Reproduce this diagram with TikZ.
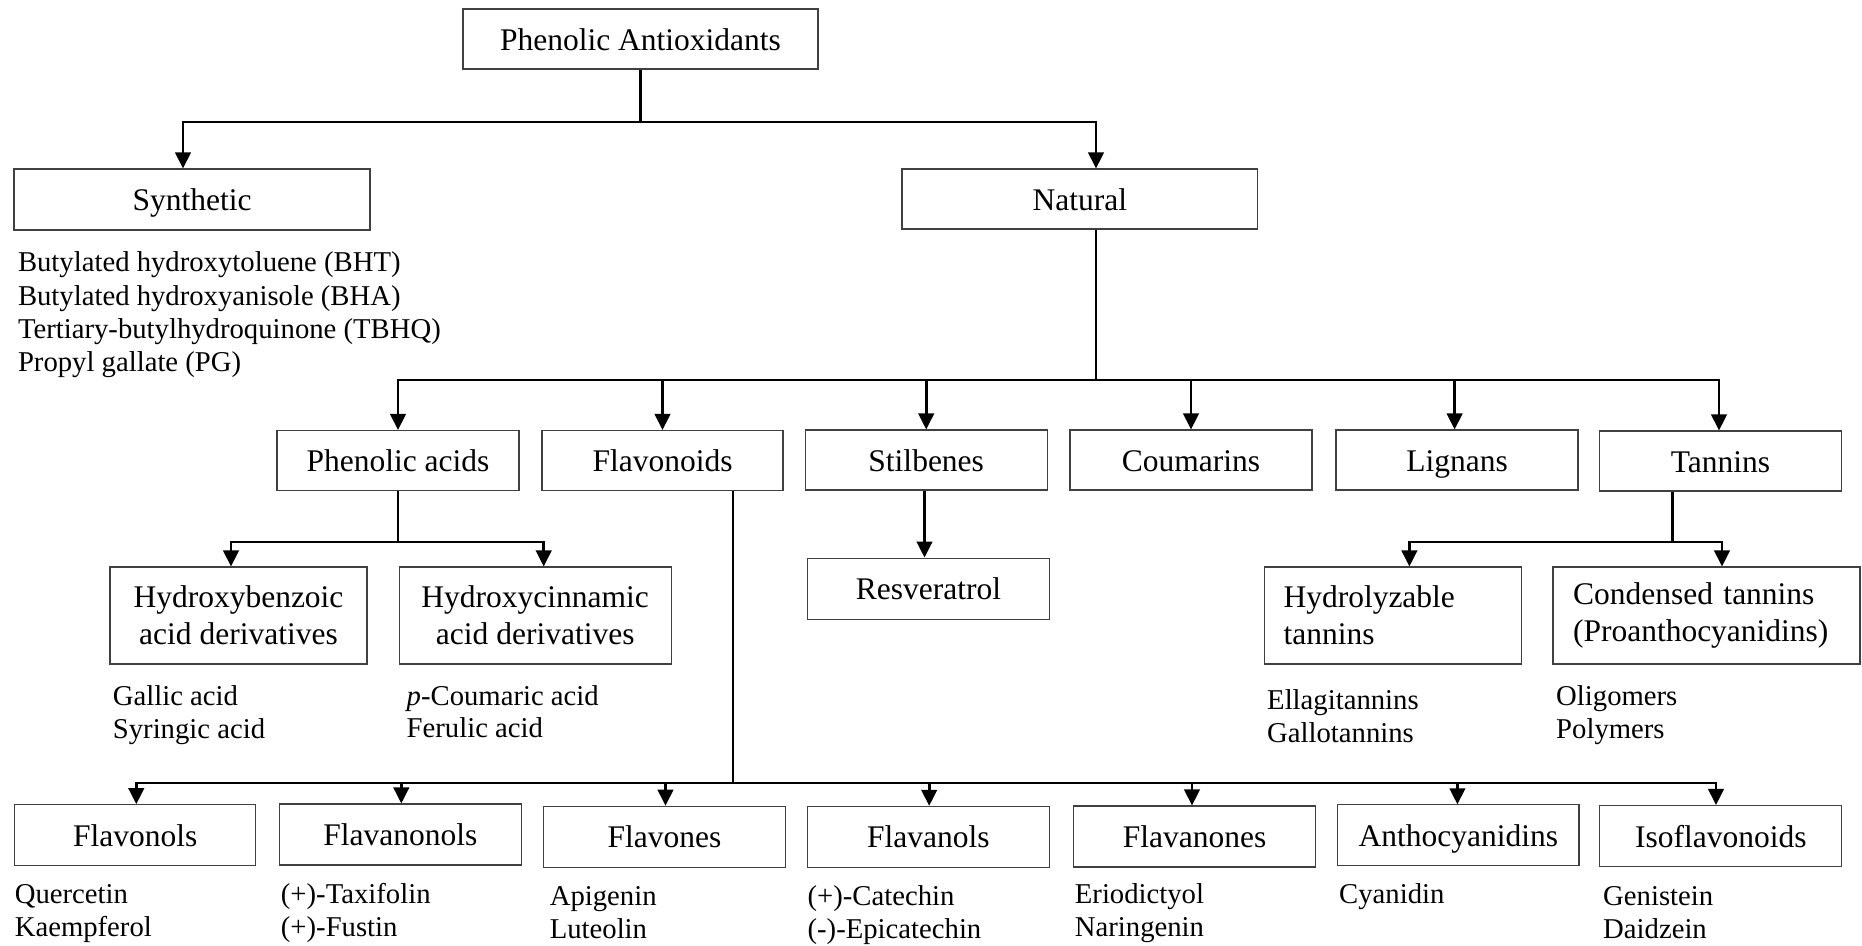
\documentclass[tikz,border=0pt]{standalone}
\usepackage{fontspec}
\setmainfont{Liberation Serif}
\usetikzlibrary{arrows.meta}
\tikzset{
  bx/.style={draw=black!75, line width=1.1pt, font=\fontsize{31.5}{37}\selectfont, inner sep=0pt, text height=23.6pt, text depth=1.6pt, minimum height=60pt},
  mbx/.style={draw=black!75, line width=1.1pt, font=\fontsize{31.5}{37}\selectfont, inner sep=0pt, align=center, minimum height=97pt},
  lbx/.style={draw=black!75, line width=1.1pt, font=\fontsize{31.5}{37}\selectfont, inner ysep=0pt, align=left, minimum height=97pt},
  lst/.style={font=\fontsize{28.7}{33}\selectfont, anchor=base west, inner sep=0pt},
  con/.style={line width=2.6pt},
  arr/.style={con, -{Triangle[length=16pt,width=15.5pt]}},
}
\begin{document}
\begin{tikzpicture}[x=1pt,y=-1pt]
\useasboundingbox (0,0) rectangle (1862,945);
% level 0 and 1
\node[bx, minimum width=355pt] (PA) at (640.5,39) {Phenolic Antioxidants};
\node[bx, minimum width=356pt, minimum height=61pt] (Syn) at (192,199.5) {Synthetic};
\node[bx, minimum width=355.5pt] (Nat) at (1079.75,199) {Natural};
% level 2
\node[bx, minimum width=242pt] (PhA) at (398,460.5) {Phenolic acids};
\node[bx, minimum width=241pt] (Flv) at (662.5,460.5) {Flavonoids};
\node[bx, minimum width=242pt] (Stl) at (926.2,460) {Stilbenes};
\node[bx, minimum width=242pt] (Cou) at (1191,460) {Coumarins};
\node[bx, minimum width=242pt] (Lig) at (1457,460) {Lignans};
\node[bx, minimum width=242pt] (Tan) at (1720.4,461) {Tannins};
% level 3
\node[mbx, minimum width=257pt] (HB) at (238.5,615.5) {Hydroxybenzoic\\acid derivatives};
\node[mbx, minimum width=272pt] (HC) at (535.2,615.5) {Hydroxycinnamic\\acid derivatives};
\node[bx, minimum width=242pt, minimum height=61pt] (Res) at (928.4,588.6) {Resveratrol};
\node[lbx, text width=219pt, inner xsep=19pt] (Hyd) at (1393,615.5) {Hydrolyzable\\tannins};
\node[lbx, text width=267pt, inner xsep=20pt] (Con) at (1706.5,615.5) {Condensed tannins\\(Proanthocyanidins)};
% level 4
\node[bx, minimum width=241pt, minimum height=61pt] (Fl1) at (135.3,835.2) {Flavonols};
\node[bx, minimum width=241.5pt, minimum height=61pt] (Fl2) at (400.3,834.5) {Flavanonols};
\node[bx, minimum width=241.6pt, minimum height=61pt] (Fl3) at (664.5,836.7) {Flavones};
\node[bx, minimum width=242pt, minimum height=61pt] (Fl4) at (928.4,836.9) {Flavanols};
\node[bx, minimum width=242pt, minimum height=61pt] (Fl5) at (1194.5,836.5) {Flavanones};
\node[bx, minimum width=241.4pt, minimum height=61pt] (Ant) at (1458.3,835.4) {Anthocyanidins};
\node[bx, minimum width=242pt, minimum height=61pt] (Iso) at (1720.8,836) {Isoflavonoids};
% lists
\node[lst] (s1) at (17.8,271.7) {Butylated hydroxytoluene (BHT)};
\node[lst] (s2) at (17.8,305) {Butylated hydroxyanisole (BHA)};
\node[lst] (s3) at (17.8,338.3) {Tertiary-butylhydroquinone (TBHQ)};
\node[lst] (s4) at (17.8,371.6) {Propyl gallate (PG)};
\node[lst] (ga) at (112.7,705.7) {Gallic acid};
\node[lst] (sa) at (112.7,738.3) {Syringic acid};
\node[lst] (pc) at (406.5,705.2) {\textit{p}-Coumaric acid};
\node[lst] (fa) at (406.5,737.8) {Ferulic acid};
\node[lst] (el) at (1267,709.3) {Ellagitannins};
\node[lst] (gt) at (1267,742.6) {Gallotannins};
\node[lst] (ol) at (1556,705.2) {Oligomers};
\node[lst] (po) at (1556,738.3) {Polymers};
\node[lst] (qu) at (14.6,903.5) {Quercetin};
\node[lst] (ka) at (14.6,936.5) {Kaempferol};
\node[lst] (tx) at (280.7,903.5) {(+)-Taxifolin};
\node[lst] (fu) at (280.7,936.5) {(+)-Fustin};
\node[lst] (ap) at (549.6,905) {Apigenin};
\node[lst] (lu) at (549.6,938) {Luteolin};
\node[lst] (ca) at (807.4,905) {(+)-Catechin};
\node[lst] (ep) at (807.4,938) {(-)-Epicatechin};
\node[lst] (er) at (1074.7,903.5) {Eriodictyol};
\node[lst] (na) at (1074.7,936.5) {Naringenin};
\node[lst] (cy) at (1339,903.5) {Cyanidin};
\node[lst] (ge) at (1603,905) {Genistein};
\node[lst] (da) at (1603,938) {Daidzein};
% connectors
\coordinate (j0) at (640.5,122);
\draw[con] (PA.south) -- (j0);
\draw[arr] (j0) -| ([xshift=-9pt]Syn.north);
\draw[arr] (j0) -| ([xshift=16.25pt]Nat.north);
\coordinate (j1) at (1096,380);
\draw[con] ([xshift=16.25pt]Nat.south) -- (j1);
\draw[arr] (j1) -| (PhA.north);
\draw[arr] (j1) -| (Flv.north);
\draw[arr] (j1) -| (Stl.north);
\draw[arr] (j1) -| (Cou.north);
\draw[arr] (j1) -| ([xshift=-2.4pt]Lig.north);
\draw[arr] (j1) -| ([xshift=-1.4pt]Tan.north);
\coordinate (j2) at (398,542);
\draw[con] (PhA.south) -- (j2);
\draw[arr] (j2) -| ([xshift=-7.5pt]HB.north);
\draw[arr] (j2) -| ([xshift=8.5pt]HC.north);
\draw[arr] ([xshift=-1.7pt]Stl.south) -- ([xshift=-1.7pt]Stl.south |- Res.north);
\coordinate (j4) at (1672.4,542);
\draw[con] ([xshift=-48pt]Tan.south) -- (j4);
\draw[arr] (j4) -| ([xshift=16.4pt]Hyd.north);
\draw[arr] (j4) -| ([xshift=15.5pt]Con.north);
\coordinate (j3) at (733,783);
\draw[con] ([xshift=70.5pt]Flv.south) -- (j3);
\draw[arr] (j3) -| ([xshift=1pt]Fl1.north);
\draw[arr] (j3) -| ([xshift=1pt]Fl2.north);
\draw[arr] (j3) -| ([xshift=1pt]Fl3.north);
\draw[arr] (j3) -| ([xshift=0.8pt]Fl4.north);
\draw[arr] (j3) -| ([xshift=-2.5pt]Fl5.north);
\draw[arr] (j3) -| ([xshift=-0.9pt]Ant.north);
\draw[arr] (j3) -| ([xshift=-4.8pt]Iso.north);
\end{tikzpicture}
\end{document}
